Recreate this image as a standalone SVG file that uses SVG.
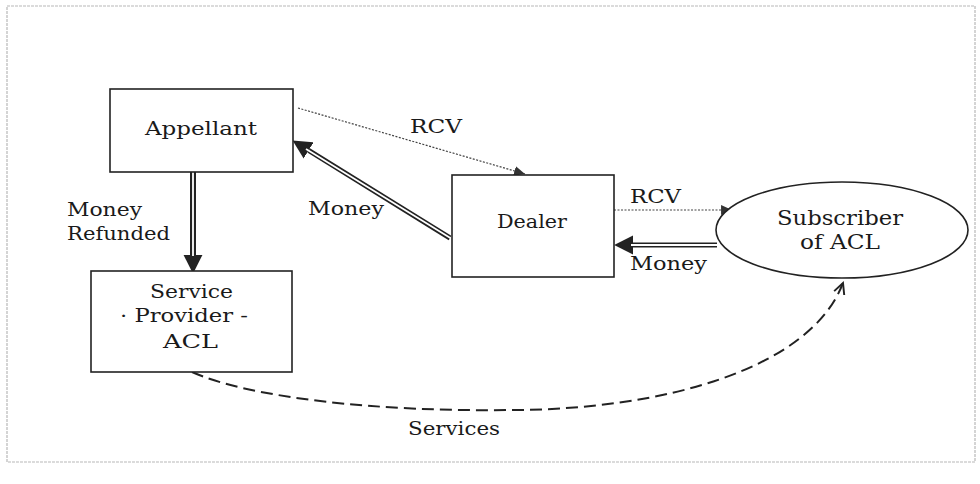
<svg xmlns="http://www.w3.org/2000/svg" width="980" height="484" viewBox="0 0 980 484">
<defs>
<style>
.box{fill:#fff;stroke:#222;stroke-width:1.6}
.t{font-family:"DejaVu Serif","Liberation Serif",serif;font-size:19px;fill:#1a1a1a}
.dot{fill:none;stroke:#444;stroke-width:1.2;stroke-dasharray:2 1.5}
.dout{fill:none;stroke:#222;stroke-width:5}
.dout6{fill:none;stroke:#222;stroke-width:6}
.din{fill:none;stroke:#fff;stroke-width:1.8}
.dash{fill:none;stroke:#222;stroke-width:2;stroke-dasharray:12 6}
.frame{fill:none;stroke:#b8b8b8;stroke-width:1.2;stroke-dasharray:3 1}
</style>
<marker id="big" markerUnits="userSpaceOnUse" markerWidth="20" markerHeight="20" refX="0" refY="8" orient="auto" viewBox="0 0 17 16">
<path d="M0,0 L16,8 L0,16 z" fill="#222"/>
</marker>
<marker id="small" markerUnits="userSpaceOnUse" markerWidth="12" markerHeight="10" refX="10" refY="4.5" orient="auto" viewBox="0 0 11 9">
<path d="M0,0 L10,4.5 L0,9 z" fill="#333"/>
</marker>
<marker id="open" markerUnits="userSpaceOnUse" markerWidth="14" markerHeight="14" refX="11" refY="6" orient="auto" viewBox="0 0 13 12">
<path d="M1,1 L11,6 L1,11" fill="none" stroke="#222" stroke-width="1.8"/>
</marker>
</defs>
<rect x="0" y="0" width="980" height="484" fill="#fff"/>
<rect class="frame" x="7" y="6" width="968" height="456"/>

<g id="connectors">
<path class="dot" d="M298,108 L525,174" marker-end="url(#small)"/>
<path class="dot" d="M614,210 L732,210" marker-end="url(#small)"/>
<path class="dout" d="M450,238 L308.6,150.4" marker-end="url(#big)"/>
<path class="din" d="M452,239 L306,149"/>
<path class="dout6" d="M193,172 L193,255" marker-end="url(#big)"/>
<path class="din" d="M193,172 L193,256"/>
<path class="dout" d="M717,245 L633,245" marker-end="url(#big)"/>
<path class="din" d="M718,245 L631,245"/>
<path class="dash" d="M192,372 C250,398 380,412 510,410 C660,410 810,370 843,283" marker-end="url(#open)"/>
<text class="t" x="410" y="133" textLength="52" lengthAdjust="spacingAndGlyphs">RCV</text>
<text class="t" x="308" y="215" textLength="76" lengthAdjust="spacingAndGlyphs">Money</text>
<text class="t" x="67" y="216" textLength="75" lengthAdjust="spacingAndGlyphs">Money</text>
<text class="t" x="67" y="240" textLength="103" lengthAdjust="spacingAndGlyphs">Refunded</text>
<text class="t" x="630" y="203" textLength="51" lengthAdjust="spacingAndGlyphs">RCV</text>
<text class="t" x="630" y="270" textLength="77" lengthAdjust="spacingAndGlyphs">Money</text>
<text class="t" x="408" y="435" textLength="92" lengthAdjust="spacingAndGlyphs">Services</text>
</g>

<g id="appellant">
<rect class="box" x="110" y="89" width="183" height="83"/>
<text class="t" x="145" y="135" textLength="112" lengthAdjust="spacingAndGlyphs">Appellant</text>
</g>

<g id="service-provider">
<rect class="box" x="91" y="271" width="201" height="101"/>
<text class="t" x="150" y="298" textLength="83" lengthAdjust="spacingAndGlyphs">Service</text>
<text class="t" x="120" y="322" textLength="128" lengthAdjust="spacingAndGlyphs">· Provider -</text>
<text class="t" x="163" y="348" textLength="55" lengthAdjust="spacingAndGlyphs">ACL</text>
</g>

<g id="dealer">
<rect class="box" x="452" y="175" width="162" height="102"/>
<text class="t" x="497" y="228" textLength="70" lengthAdjust="spacingAndGlyphs">Dealer</text>
</g>

<g id="subscriber">
<ellipse class="box" cx="842" cy="230" rx="126" ry="48"/>
<text class="t" x="777" y="225" textLength="126" lengthAdjust="spacingAndGlyphs" style="font-size:20px">Subscriber</text>
<text class="t" x="800" y="249" textLength="80" lengthAdjust="spacingAndGlyphs" style="font-size:20px">of ACL</text>
</g>
</svg>
